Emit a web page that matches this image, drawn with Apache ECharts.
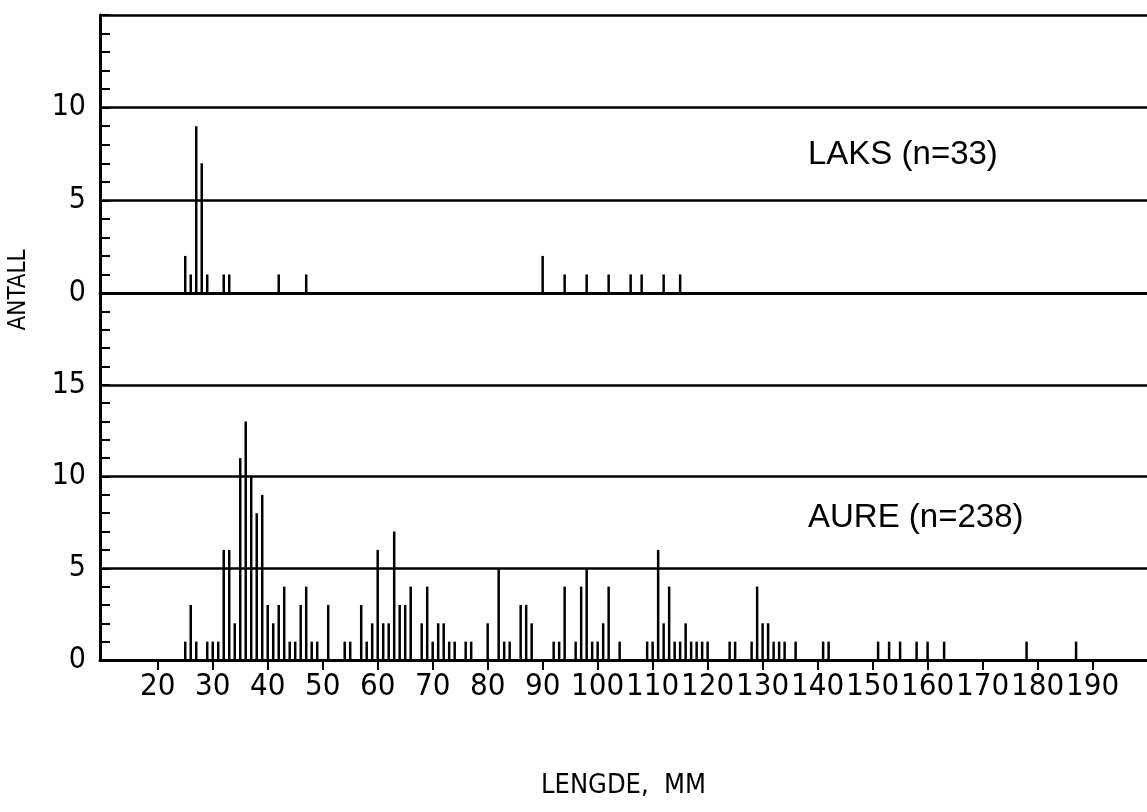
<!DOCTYPE html>
<html>
<head>
<meta charset="utf-8">
<script src="https://cdn.jsdelivr.net/npm/echarts@6.0.0/dist/echarts.min.js"></script>
<style>
    html, body { margin: 0; padding: 0; background: #fff; }
    #chart { width: 1147px; height: 812px; }
</style>
</head>
<body>
<div id="chart"></div>
<script>
// LAKS (salmon), length in mm and number of fish
let laksLength = [25, 26, 27, 28, 29, 32, 33, 42, 47, 90, 94, 98, 102, 106, 108, 112, 115];
let laksCount = [2, 1, 9, 7, 1, 1, 1, 1, 1, 2, 1, 1, 1, 1, 1, 1, 1];

// AURE (trout), length in mm and number of fish
let aureLength = [25, 26, 27, 29, 30, 31, 32, 33, 34, 35, 36, 37, 38, 39,
    40, 41, 42, 43, 44, 45, 46, 47, 48, 49, 51, 54, 55, 57, 58, 59,
    60, 61, 62, 63, 64, 65, 66, 68, 69, 70, 71, 72, 73, 74, 76, 77,
    80, 82, 83, 84, 86, 87, 88, 92, 93, 94, 96, 97, 98, 99,
    100, 101, 102, 104, 109, 110, 111, 112, 113, 114, 115, 116, 117, 118, 119, 120,
    124, 125, 128, 129, 130, 131, 132, 133, 134, 136, 141, 142,
    151, 153, 155, 158, 160, 163, 178, 187];
let aureCount = [1, 3, 1, 1, 1, 1, 6, 6, 2, 11, 13, 10, 8, 9,
    3, 2, 3, 4, 1, 1, 3, 4, 1, 1, 3, 1, 1, 3, 1, 2,
    6, 2, 2, 7, 3, 3, 4, 2, 4, 1, 2, 2, 1, 1, 1, 1,
    2, 5, 1, 1, 3, 3, 2, 1, 1, 4, 1, 4, 5, 1,
    1, 2, 4, 1, 1, 1, 6, 2, 4, 1, 1, 2, 1, 1, 1, 1,
    1, 1, 1, 4, 2, 2, 1, 1, 1, 1, 1, 1,
    1, 1, 1, 1, 1, 1, 1, 1];

let xTicks = [20, 30, 40, 50, 60, 70, 80, 90, 100, 110, 120, 130, 140, 150, 160, 170, 180, 190];

let plotFont = "'Liberation Sans Narrow', 'DejaVu Sans Condensed', sans-serif";
let xMin = 9.5;
let xMax = 199.9;

function pairs(xs, ys) {
    return xs.map(function (x, i) {
        return [x, ys[i]];
    });
}

function yAxisFor(gridIndex, max) {
    return {
        gridIndex: gridIndex,
        type: 'value',
        min: 0,
        max: max,
        interval: 5,
        axisLine: { show: true, lineStyle: { color: '#000', width: 3 } },
        axisTick: { show: true, inside: true, length: 10, lineStyle: { color: '#000', width: 2 } },
        minorTick: { show: true, splitNumber: 5, length: 10, lineStyle: { color: '#000', width: 2 } },
        axisLabel: {
            showMaxLabel: false,
            margin: 14,
            color: '#000',
            fontFamily: plotFont,
            fontSize: 30
        },
        splitLine: { show: true, lineStyle: { color: '#000', width: 2.5 } }
    };
}

let chart = echarts.init(document.getElementById('chart'));
chart.setOption({
    animation: false,
    backgroundColor: '#fff',
    grid: [
        { left: 100, right: 0, top: 15, height: 278 },
        { left: 100, right: 0, top: 293, height: 367 }
    ],
    xAxis: [{
        gridIndex: 0,
        type: 'value',
        min: xMin,
        max: xMax,
        axisLine: { show: true, onZero: false, lineStyle: { color: '#000', width: 3 } },
        axisTick: { show: false },
        axisLabel: { show: false },
        splitLine: { show: false }
    }, {
        gridIndex: 1,
        type: 'value',
        min: xMin,
        max: xMax,
        axisLine: { show: true, onZero: false, lineStyle: { color: '#000', width: 3 } },
        axisTick: { show: true, length: 10, customValues: xTicks, lineStyle: { color: '#000', width: 2 } },
        axisLabel: {
            customValues: xTicks,
            margin: 11,
            color: '#000',
            fontFamily: plotFont,
            fontSize: 31
        },
        splitLine: { show: false },
        name: 'LENGDE,  MM',
        nameLocation: 'middle',
        nameGap: 112,
        nameTextStyle: { color: '#000', fontFamily: plotFont, fontSize: 27 }
    }],
    yAxis: [yAxisFor(0, 15), yAxisFor(1, 20)],
    graphic: [{
        type: 'text',
        x: 19,
        y: 290,
        rotation: Math.PI / 2,
        style: {
            text: 'ANTALL',
            fill: '#000',
            font: '24px ' + plotFont,
            align: 'center',
            verticalAlign: 'middle'
        }
    }, {
        type: 'text',
        left: 808,
        top: 138,
        style: { text: 'LAKS (n=33)', fill: '#000', font: '33px "Liberation Sans", Arial, sans-serif' }
    }, {
        type: 'text',
        left: 808,
        top: 501,
        style: { text: 'AURE (n=238)', fill: '#000', font: '33px "Liberation Sans", Arial, sans-serif' }
    }],
    series: [{
        name: 'LAKS',
        type: 'bar',
        xAxisIndex: 0,
        yAxisIndex: 0,
        barWidth: 2.5,
        itemStyle: { color: '#000' },
        data: pairs(laksLength, laksCount)
    }, {
        name: 'AURE',
        type: 'bar',
        xAxisIndex: 1,
        yAxisIndex: 1,
        barWidth: 2.5,
        itemStyle: { color: '#000' },
        data: pairs(aureLength, aureCount)
    }]
});
</script>
</body>
</html>
